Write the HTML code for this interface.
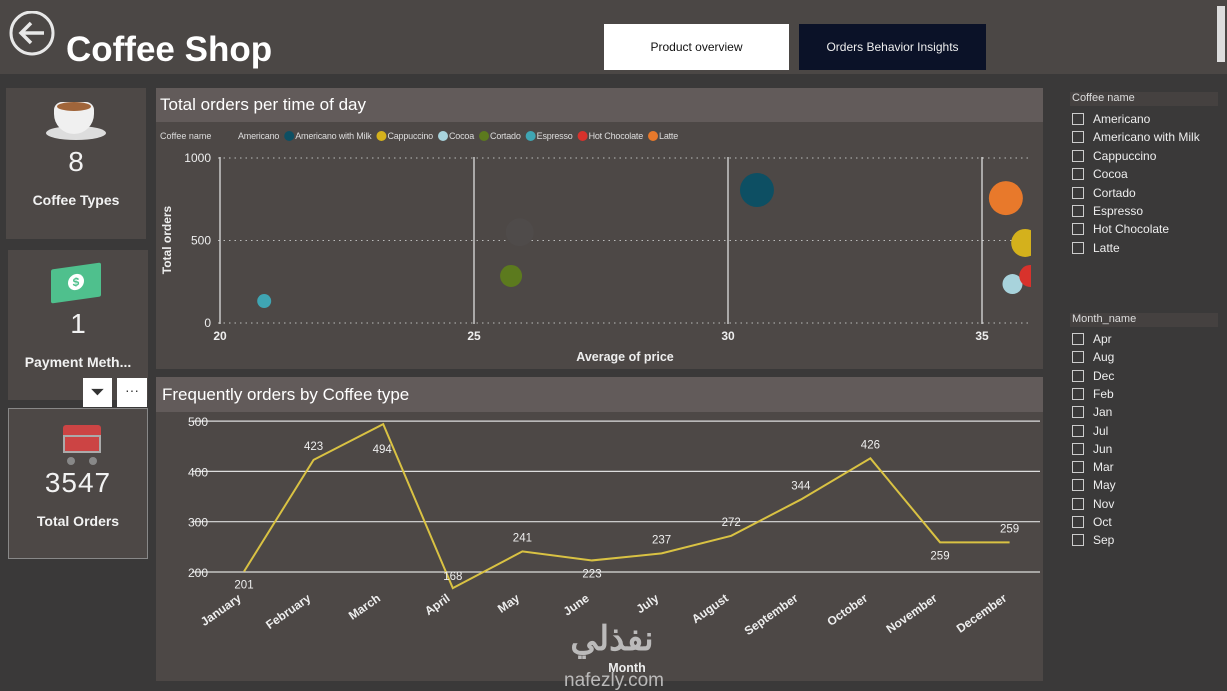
<!DOCTYPE html>
<html><head><meta charset="utf-8">
<style>
*{box-sizing:border-box;margin:0;padding:0}
body{width:1227px;height:691px;overflow:hidden;background:#3a3939;font-family:"Liberation Sans",sans-serif;position:relative;color:#fff}
.abs{position:absolute}
.card{position:absolute;background:#4d4846;}
.kpi{text-align:center;color:#f2f2f2}
.chk{position:absolute;left:1072px;font-size:12px;color:#eee;display:flex;align-items:center}
.chk span.b{width:12px;height:12px;border:1px solid #ccc;margin-right:9px;display:inline-block}
</style></head><body>
<div class="abs" style="left:0;top:0;width:1227px;height:74px;background:#4b4745"></div>
<svg class="abs" style="left:9px;top:11px" width="48" height="48"><circle cx="23" cy="22" r="21" fill="none" stroke="#e8e8e8" stroke-width="3"/><path d="M35 22H13M22 12l-10 10 10 10" fill="none" stroke="#e8e8e8" stroke-width="3.5"/></svg>
<div class="abs" style="left:66px;top:30px;font-size:35px;font-weight:bold;color:#fff">Coffee Shop</div>
<div class="abs" style="left:604px;top:24px;width:185px;height:46px;background:#fff;color:#111;font-size:12px;display:flex;align-items:center;justify-content:center">Product overview</div>
<div class="abs" style="left:799px;top:24px;width:187px;height:46px;background:#0b1228;color:#eee;font-size:12px;display:flex;align-items:center;justify-content:center">Orders Behavior Insights</div>
<div class="abs" style="left:1217px;top:6px;width:8px;height:56px;background:#ddd"></div>

<div class="card kpi" style="left:6px;top:88px;width:140px;height:151px">
<div style="position:absolute;left:40px;top:8px;width:60px;height:48px"><div style="position:absolute;left:0;top:30px;width:60px;height:14px;border-radius:50%;background:#ddd"></div><div style="position:absolute;left:8px;top:6px;width:40px;height:32px;border-radius:8px 8px 20px 20px;background:#f0f0f0"></div><div style="position:absolute;left:11px;top:6px;width:34px;height:9px;border-radius:50%;background:#a0653a"></div></div>
<div style="position:absolute;top:58px;width:100%;font-size:28px">8</div>
<div style="position:absolute;top:104px;width:100%;font-size:14px;font-weight:bold">Coffee Types</div></div>

<div class="card kpi" style="left:8px;top:250px;width:140px;height:150px">
<div style="position:absolute;left:43px;top:16px;width:50px;height:34px;background:#4fc08d;transform:skewY(-8deg);border-radius:2px"><div style="margin:8px auto;width:16px;height:16px;border-radius:50%;background:#fff;color:#4fc08d;font-size:12px;line-height:16px;font-weight:bold">$</div></div>
<div style="position:absolute;top:58px;width:100%;font-size:28px">1</div>
<div style="position:absolute;top:104px;width:100%;font-size:14px;font-weight:bold">Payment Meth...</div></div>
<div class="abs" style="left:83px;top:378px;width:29px;height:29px;background:#fff;color:#333;text-align:center;font-size:18px;line-height:29px">⏷</div>
<div class="abs" style="left:117px;top:378px;width:30px;height:29px;background:#fff;color:#333;text-align:center;font-size:14px;line-height:25px">···</div>

<div class="card kpi" style="left:8px;top:408px;width:140px;height:151px;border:1px solid #888">
<div style="position:absolute;left:50px;top:8px;width:46px;height:50px"><div style="position:absolute;left:4px;top:8px;width:38px;height:26px;background:#c44;border-radius:3px"></div><div style="position:absolute;left:4px;top:18px;width:38px;height:18px;border:2px solid #aaa"></div><div style="position:absolute;left:8px;top:40px;width:8px;height:8px;border-radius:50%;background:#888"></div><div style="position:absolute;left:30px;top:40px;width:8px;height:8px;border-radius:50%;background:#888"></div></div>
<div style="position:absolute;top:58px;width:100%;font-size:28px;letter-spacing:1px">3547</div>
<div style="position:absolute;top:104px;width:100%;font-size:14px;font-weight:bold">Total Orders</div></div>

<div class="card" style="left:156px;top:88px;width:887px;height:281px"></div>
<div class="abs" style="left:156px;top:88px;width:887px;height:34px;background:#625b5a"></div>
<div class="abs" style="left:160px;top:95px;font-size:17px;color:#fff">Total orders per time of day</div>
<svg class="abs" id="scatter" style="left:0;top:0" width="1227" height="691"></svg>

<div class="card" style="left:156px;top:377px;width:887px;height:304px"></div>
<div class="abs" style="left:156px;top:377px;width:887px;height:35px;background:#625b5a"></div>
<div class="abs" style="left:162px;top:385px;font-size:17px;color:#fff">Frequently orders by Coffee type</div>
<svg class="abs" id="line" style="left:0;top:0" width="1227" height="691"></svg>

<div class="abs" style="left:1070px;top:92px;width:148px;height:14px;background:#454140;font-size:11px;color:#ddd;padding-left:2px">Coffee name</div>
<div class="abs" style="left:1070px;top:313px;width:148px;height:14px;background:#454140;font-size:11px;color:#ddd;padding-left:2px">Month_name</div>
<div id="slicers"></div>

<script>
// Scatter data
const coffeeNames=["Americano","Americano with Milk","Cappuccino","Cocoa","Cortado","Espresso","Hot Chocolate","Latte"];
const coffeeColors=["#4f4b4a","#0d4f63","#d4b11c","#a8d3dc","#5c7a1e","#3fa5b3","#d8322c","#e8792b"];
const avgPrice=[25.9,30.57,35.85,35.6,25.73,20.87,35.95,35.47];
const totalOrders=[550,806,485,236,285,133,285,757];
const bubbleSize=[14,17,14,10,11,7,11,17];
const xTicks=[20,25,30,35];
const yTicks=[0,500,1000];
// Line data
const months=["January","February","March","April","May","June","July","August","September","October","November","December"];
const monthOrders=[201,423,494,168,241,223,237,272,344,426,259,259];
const lineYTicks=[200,300,400,500];

const NS="http://www.w3.org/2000/svg";
function mk(parent,tag,attrs,text){const e=document.createElementNS(NS,tag);for(const k in attrs)e.setAttribute(k,attrs[k]);if(text!==undefined)e.textContent=text;parent.appendChild(e);return e;}

// scatter
const sv=document.getElementById('scatter');
const sx=v=>220+(v-20)*50.8, sy=v=>323-v*0.165;
const clip=mk(sv,'clipPath',{id:'pc'});mk(clip,'rect',{x:200,y:140,width:831,height:200});
let lg=mk(sv,'text',{x:160,y:139,'font-size':9,fill:'#ddd'},'Coffee name');

let lx=238;
coffeeNames.forEach((n,i)=>{
  if(i>0){const c=mk(sv,'circle',{cx:lx+5,cy:136,r:5,fill:i==0?'#0d4f63':coffeeColors[i]});lx+=11;}
  const t=mk(sv,'text',{x:lx,y:139,'font-size':9,fill:'#ddd','letter-spacing':'-0.2'},n);
  
  lx+=t.getComputedTextLength()+5;
});
yTicks.forEach(v=>{
  const l=mk(sv,'line',{x1:218,x2:1031,y1:sy(v),y2:sy(v),stroke:'#bbb','stroke-dasharray':'1.5 4','stroke-width':1});
  
  const t=mk(sv,'text',{x:211,y:sy(v)+4,'font-size':12,fill:'#eee','text-anchor':'end'},v);
  
});
xTicks.forEach(v=>{
  const l=mk(sv,'line',{x1:sx(v),x2:sx(v),y1:157,y2:324,stroke:'#ddd','stroke-width':1.3});
  
  const t=mk(sv,'text',{x:sx(v),y:340,'font-size':12,'font-weight':'bold',fill:'#eee','text-anchor':'middle'},v);
  
});
const g=mk(sv,'g',{'clip-path':'url(#pc)'});
avgPrice.forEach((p,i)=>{
  const c=mk(g,'circle',{cx:sx(p),cy:sy(totalOrders[i]),r:bubbleSize[i],fill:coffeeColors[i]});
  
  
});
let t=mk(sv,'text',{x:625,y:361,'font-size':12.5,'font-weight':'bold',fill:'#eee','text-anchor':'middle'},'Average of price');

t=mk(sv,'text',{x:0,y:0,'font-size':12,'font-weight':'bold',fill:'#eee','text-anchor':'middle',transform:'translate(171,240) rotate(-90)'},'Total orders');


// line
const lv=document.getElementById('line');
const lx2=i=>244+i*69.6, ly=v=>572-(v-200)*0.503;
lineYTicks.forEach(v=>{
  const l=mk(lv,'line',{x1:192,x2:1040,y1:ly(v),y2:ly(v),stroke:'#ddd','stroke-width':1.2});
  
  const t=mk(lv,'text',{x:208,y:ly(v)+5,'font-size':12,fill:'#eee','text-anchor':'end'},v);
  
});
const pl=mk(lv,'polyline',{points:monthOrders.map((v,i)=>lx2(i)+','+ly(v)).join(' '),fill:'none',stroke:'#d9c243','stroke-width':2});

const below=[true,false,false,false,false,true,false,false,false,false,true,false];
monthOrders.forEach((v,i)=>{
  const t=mk(lv,'text',{x:lx2(i)+(i==2?-1:0),y:below[i]?ly(v)+17:ly(v)-(i==2?-9:10)+(i==2?20:0),'font-size':11.5,fill:'#eee','text-anchor':'middle'},v);
  if(i==3) t.setAttribute('y',ly(v)-8);
  
  const m=mk(lv,'text',{x:0,y:0,'font-size':12,'font-weight':'bold',fill:'#eee','text-anchor':'end',transform:'translate('+(lx2(i)-2)+',600) rotate(-35)'},months[i]);
  
});
t=mk(lv,'text',{x:627,y:672,'font-size':12.5,'font-weight':'bold',fill:'#eee','text-anchor':'middle'},'Month');

t=mk(lv,'text',{x:612,y:650,'font-size':34,'font-weight':'bold',fill:'#cfcfcf','text-anchor':'middle','opacity':0.85},'نفذلي');

t=mk(lv,'text',{x:614,y:686,'font-size':19,fill:'#cfcfcf','text-anchor':'middle','opacity':0.85},'nafezly.com');


// slicers
const sl=document.getElementById('slicers');
const monthShort=["Apr","Aug","Dec","Feb","Jan","Jul","Jun","Mar","May","Nov","Oct","Sep"];
coffeeNames.forEach((n,i)=>{const d=document.createElement('div');d.className='chk';d.style.top=(112+i*18.4)+'px';d.innerHTML='<span class="b"></span>'+n;


sl.appendChild(d);});
monthShort.forEach((n,i)=>{const d=document.createElement('div');d.className='chk';d.style.top=(332+i*18.3)+'px';d.innerHTML='<span class="b"></span>'+n;


sl.appendChild(d);});
</script>
</body></html>
